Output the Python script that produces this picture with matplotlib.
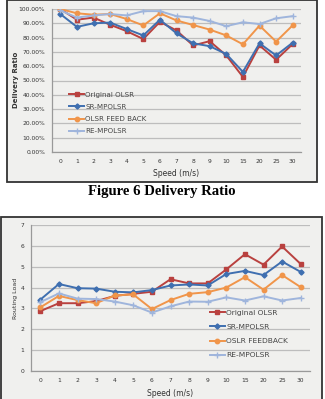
import matplotlib.pyplot as plt
import numpy as np
from matplotlib.patches import Rectangle

# Data
speeds = ["0", "1", "2", "3", "4", "5", "6", "7", "8", "9", "10", "15", "20", "25", "30"]

# Delivery ratio (%)
dr_original = [100, 92.5, 94, 89, 84.5, 79, 91, 85, 74.5, 77.5, 67.5, 52.5, 74.5, 64.5, 75.5]
dr_sr = [96.5, 87.5, 90, 90.5, 86, 81.5, 92.5, 83, 76, 74, 68.5, 56, 76, 67.5, 76.5]
dr_feedback = [100, 97, 96, 96.5, 93, 88.5, 97, 92, 88.8, 85.6, 81.5, 75.3, 88.4, 77.2, 88.6]
dr_re = [99, 94, 95.5, 96.5, 95.5, 98.5, 98.5, 95, 94, 91.6, 88, 90.7, 89.5, 93.5, 95]

# Routing load
rl_original = [2.87, 3.25, 3.25, 3.35, 3.6, 3.7, 3.8, 4.4, 4.2, 4.2, 4.87, 5.6, 5.1, 5.97, 5.13]
rl_sr = [3.42, 4.17, 3.97, 3.95, 3.8, 3.77, 3.88, 4.1, 4.15, 4.1, 4.65, 4.8, 4.6, 5.25, 4.75]
rl_feedback = [3.05, 3.6, 3.4, 3.25, 3.62, 3.67, 2.97, 3.4, 3.7, 3.78, 4.0, 4.5, 3.9, 4.6, 4.02]
rl_re = [3.3, 3.72, 3.47, 3.45, 3.33, 3.15, 2.8, 3.1, 3.33, 3.32, 3.53, 3.38, 3.58, 3.38, 3.5]

RED = "#b9413f"
BLUE = "#3f6fb0"
ORANGE = "#f0954a"
LIGHT = "#9fb5dc"
BG = "#f0f0ee"

W, H = 325, 399
fig = plt.figure(figsize=(W / 100, H / 100), dpi=100)
fig.patch.set_facecolor("white")


def frac(x0, y0, x1, y1):
    # pixel box (top-left origin) -> figure fraction rect
    return [x0 / W, (H - y1) / H, (x1 - x0) / W, (y1 - y0) / H]


def box(x0, y0, x1, y1):
    r = Rectangle((x0 / W, (H - y1) / H), (x1 - x0) / W, (y1 - y0) / H,
                  transform=fig.transFigure, facecolor=BG, edgecolor="#333333",
                  linewidth=1.3, zorder=-1)
    fig.patches.append(r)


def style(ax):
    ax.set_facecolor(BG)
    for s in ["top", "right"]:
        ax.spines[s].set_visible(False)
    for s in ["left", "bottom"]:
        ax.spines[s].set_color("#999999")
        ax.spines[s].set_linewidth(0.9)
    ax.grid(axis="y", color="#bdbdbd", linewidth=0.9)
    ax.set_axisbelow(True)
    ax.tick_params(length=0, labelsize=4.3, colors="#333333", pad=5)
    ax.set_xlim(-0.5, len(speeds) - 0.5)
    ax.set_xticks(np.arange(len(speeds)))
    ax.set_xticklabels(speeds)


x = np.arange(len(speeds))

# ---- Top chart: delivery ratio ----
box(7, 0, 317, 182)
ax1 = fig.add_axes(frac(52, 9, 301, 152))
style(ax1)
ax1.plot(x, dr_original, "-s", color=RED, lw=1.4, ms=3.5, label="Original OLSR")
ax1.plot(x, dr_sr, "-D", color=BLUE, lw=1.4, ms=2.6, label="SR-MPOLSR")
ax1.plot(x, dr_feedback, "-o", color=ORANGE, lw=1.4, ms=3.2, label="OLSR FEED BACK")
ax1.plot(x, dr_re, "-+", color=LIGHT, lw=1.4, ms=4, mew=1, label="RE-MPOLSR")
ax1.set_ylim(0, 100)
ax1.set_yticks(np.arange(0, 101, 10))
ax1.set_yticklabels([f"{v:.2f}%" for v in np.arange(0, 101, 10)])
ax1.set_xlabel("Speed (m/s)", fontsize=5.5, color="#333333", labelpad=4)
fig.text(16 / W, 1 - 80 / H, "Delivery Ratio", rotation=90, fontsize=5,
         fontweight="bold", color="#333333", ha="center", va="center")
ax1.legend(loc="upper left", bbox_to_anchor=(0.07, 0.42), frameon=False,
           fontsize=5.1, handlelength=2.0, handletextpad=0.2, labelspacing=0.85,
           labelcolor="#444444", borderaxespad=0, borderpad=0)

fig.text(162 / W, 1 - 192 / H, "Figure 6 Delivery Ratio", fontsize=10.6,
         fontweight="bold", family="Liberation Serif", ha="center", va="center")

# ---- Bottom chart: routing load ----
box(1, 217, 322, 402)
ax2 = fig.add_axes(frac(31, 225, 310, 371))
style(ax2)
ax2.plot(x, rl_original, "-s", color=RED, lw=1.4, ms=3.5, label="Original OLSR")
ax2.plot(x, rl_sr, "-D", color=BLUE, lw=1.4, ms=2.6, label="SR-MPOLSR")
ax2.plot(x, rl_feedback, "-o", color=ORANGE, lw=1.4, ms=3.2, label="OSLR FEEDBACK")
ax2.plot(x, rl_re, "-+", color=LIGHT, lw=1.4, ms=4, mew=1, label="RE-MPOLSR")
ax2.set_ylim(0, 7)
ax2.set_yticks(range(0, 8))
ax2.set_xlabel("Speed (m/s)", fontsize=5.5, color="#333333", labelpad=4)
fig.text(15 / W, 1 - 298 / H, "Routing Load", rotation=90, fontsize=4.5,
         color="#333333", ha="center", va="center")
ax2.legend(loc="upper left", bbox_to_anchor=(0.64, 0.42), frameon=False,
           fontsize=5.4, handlelength=2.0, handletextpad=0.2, labelspacing=1.05,
           labelcolor="#444444", borderaxespad=0, borderpad=0)

fig.savefig("out.png", dpi=100)
